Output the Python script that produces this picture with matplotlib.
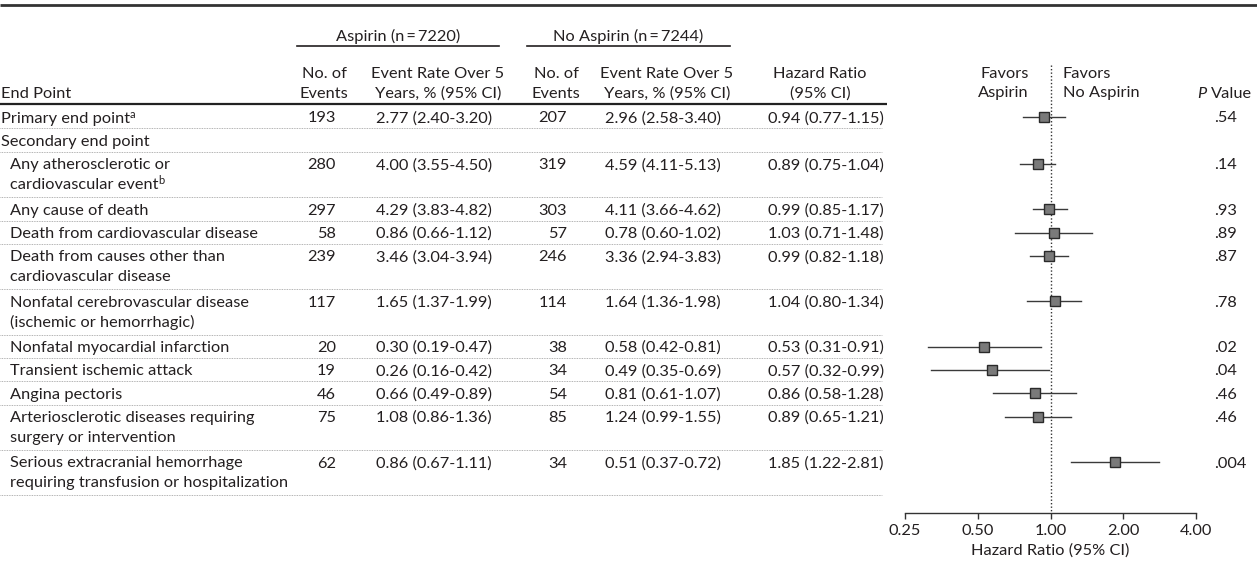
import matplotlib
matplotlib.use("Agg")
import matplotlib.pyplot as plt
import numpy as np

plt.rcParams['font.family'] = ['Lato', 'DejaVu Sans']

# ---- table content -------------------------------------------------------
endpoints = [
    "Primary end point",
    "Secondary end point",
    "Any atherosclerotic or\ncardiovascular event",
    "Any cause of death",
    "Death from cardiovascular disease",
    "Death from causes other than\ncardiovascular disease",
    "Nonfatal cerebrovascular disease\n(ischemic or hemorrhagic)",
    "Nonfatal myocardial infarction",
    "Transient ischemic attack",
    "Angina pectoris",
    "Arteriosclerotic diseases requiring\nsurgery or intervention",
    "Serious extracranial hemorrhage\nrequiring transfusion or hospitalization",
]
footnotes = ["a", "", "b", "", "", "", "", "", "", "", "", ""]
indented = [False, False, True, True, True, True, True, True, True, True, True, True]

asp_events = [193, None, 280, 297, 58, 239, 117, 20, 19, 46, 75, 62]
asp_rate = [2.77, None, 4.00, 4.29, 0.86, 3.46, 1.65, 0.30, 0.26, 0.66, 1.08, 0.86]
asp_lo = [2.40, None, 3.55, 3.83, 0.66, 3.04, 1.37, 0.19, 0.16, 0.49, 0.86, 0.67]
asp_hi = [3.20, None, 4.50, 4.82, 1.12, 3.94, 1.99, 0.47, 0.42, 0.89, 1.36, 1.11]

noasp_events = [207, None, 319, 303, 57, 246, 114, 38, 34, 54, 85, 34]
noasp_rate = [2.96, None, 4.59, 4.11, 0.78, 3.36, 1.64, 0.58, 0.49, 0.81, 1.24, 0.51]
noasp_lo = [2.58, None, 4.11, 3.66, 0.60, 2.94, 1.36, 0.42, 0.35, 0.61, 0.99, 0.37]
noasp_hi = [3.40, None, 5.13, 4.62, 1.02, 3.83, 1.98, 0.81, 0.69, 1.07, 1.55, 0.72]

hr = [0.94, None, 0.89, 0.99, 1.03, 0.99, 1.04, 0.53, 0.57, 0.86, 0.89, 1.85]
hr_lo = [0.77, None, 0.75, 0.85, 0.71, 0.82, 0.80, 0.31, 0.32, 0.58, 0.65, 1.22]
hr_hi = [1.15, None, 1.04, 1.17, 1.48, 1.18, 1.34, 0.91, 0.99, 1.28, 1.21, 2.81]

p_values = [".54", "", ".14", ".93", ".89", ".87", ".78", ".02", ".04", ".46", ".46", ".004"]

n_aspirin = 7220
n_no_aspirin = 7244
hr_ticks = [0.25, 0.50, 1.00, 2.00, 4.00]

# ---- layout (pixel units) ------------------------------------------------
W, H = 1257, 562
FS = 11.8
TXT = "#231f20"
LINE_STEP = 20          # spacing between wrapped lines in one row
ROW_STEP = 23.4         # spacing between single-line rows
EXTRA_LINE = 21.9       # extra height added per wrapped line

fig = plt.figure(figsize=(W / 100, H / 100), dpi=100)
ax = fig.add_axes([0, 0, 1, 1])
ax.set_xlim(0, W)
ax.set_ylim(H, 0)
ax.axis("off")

# row positions
row_y = []
y = 117.0
for label in endpoints:
    row_y.append(y)
    n_lines = label.count("\n") + 1
    y += ROW_STEP + EXTRA_LINE * (n_lines - 1)

BASE = 5.5  # baseline offset from row centre


def put(x, yc, s, ha="left", **kw):
    return ax.text(x, yc + BASE, s, ha=ha, va="baseline", fontsize=kw.pop("fontsize", FS),
                   color=kw.pop("color", TXT), **kw)


def fmt_ci(v, lo, hi):
    return f"{v:.2f} ({lo:.2f}-{hi:.2f})"


# column anchors
X_END, X_INDENT = 1, 10
X_AEV, X_ARATE = 336, 376
X_NEV, X_NRATE = 567, 605
X_HR = 768
X_P = 1214

# top rule
ax.plot([0, W], [5, 5], color="#333333", lw=2.0, solid_capstyle="butt")

# group headers
put(398, 35, f"Aspirin (n\u2009=\u2009{n_aspirin})", ha="center")
ax.plot([297, 499], [46, 46], color=TXT, lw=1.2)
put(628, 35, f"No Aspirin (n\u2009=\u2009{n_no_aspirin})", ha="center")
ax.plot([527, 730], [46, 46], color=TXT, lw=1.2)

# column headers
HY1, HY2 = 72, 92
put(X_END, HY2, "End Point")
put(324, HY1, "No. of", ha="center")
put(324, HY2, "Events", ha="center")
put(438, HY1, "Event Rate Over 5", ha="center")
put(438, HY2, "Years, % (95% CI)", ha="center")
put(556, HY1, "No. of", ha="center")
put(556, HY2, "Events", ha="center")
put(667, HY1, "Event Rate Over 5", ha="center")
put(667, HY2, "Years, % (95% CI)", ha="center")
put(820, HY1, "Hazard Ratio", ha="center")
put(820, HY2, "(95% CI)", ha="center")
put(1029, HY1, "Favors", ha="right")
put(1029, HY2, "Aspirin", ha="right")
put(1063, HY1, "Favors")
put(1063, HY2, "No Aspirin")
fig.canvas.draw()
renderer = fig.canvas.get_renderer()
ptxt = put(1197, HY2, "P", style="italic")
bb = ptxt.get_window_extent(renderer)
px_right = ax.transData.inverted().transform((bb.x1, bb.y0))[0]
put(px_right + 5, HY2, "Value")

# header rule
ax.plot([0, 887], [104, 104], color="#222222", lw=1.6, solid_capstyle="butt")

# table body
for i, label in enumerate(endpoints):
    yc = row_y[i]
    lines = label.split("\n")
    x0 = X_INDENT if indented[i] else X_END
    for k, ln in enumerate(lines):
        t = put(x0, yc + LINE_STEP * k, ln)
        if k == len(lines) - 1 and footnotes[i]:
            bb = t.get_window_extent(renderer)
            xr = ax.transData.inverted().transform((bb.x1, bb.y0))[0]
            ax.text(xr, yc + LINE_STEP * k + BASE - 5, footnotes[i], fontsize=8,
                    color=TXT, ha="left", va="baseline")
    if asp_events[i] is not None:
        put(X_AEV, yc, f"{asp_events[i]}", ha="right")
        put(X_ARATE, yc, fmt_ci(asp_rate[i], asp_lo[i], asp_hi[i]))
        put(X_NEV, yc, f"{noasp_events[i]}", ha="right")
        put(X_NRATE, yc, fmt_ci(noasp_rate[i], noasp_lo[i], noasp_hi[i]))
        put(X_HR, yc, fmt_ci(hr[i], hr_lo[i], hr_hi[i]))
        put(X_P, yc, p_values[i])

    # dotted separator under each row
    n_lines = len(lines)
    if i + 1 < len(endpoints):
        ys = row_y[i + 1] - 12
    else:
        ys = yc + LINE_STEP * (n_lines - 1) + 13
    ax.plot([0, 882], [ys, ys], color="#9a9a9a", lw=0.6, ls=(0, (1, 1)))

# ---- forest plot ---------------------------------------------------------
AX_L, AX_R, AX_B, AX_T = 905, 1196, 513, 60
fax = fig.add_axes([AX_L / W, 1 - AX_B / H, (AX_R - AX_L) / W, (AX_B - AX_T) / H])
fax.set_xscale("log", base=2)
fax.set_xlim(hr_ticks[0], hr_ticks[-1])
fax.set_ylim(AX_B, AX_T)
fax.patch.set_alpha(0)
for s in ("top", "right", "left"):
    fax.spines[s].set_visible(False)
fax.spines["bottom"].set_color("#333333")
fax.spines["bottom"].set_linewidth(1.0)
fax.set_yticks([])
fax.set_xticks(hr_ticks)
fax.set_xticklabels([f"{t:.2f}" for t in hr_ticks], fontsize=FS, color=TXT)
fax.xaxis.set_minor_locator(matplotlib.ticker.NullLocator())
fax.tick_params(axis="x", direction="out", length=4, width=1.0, color="#333333", pad=4)
fax.set_xlabel("Hazard Ratio (95% CI)", fontsize=FS, color=TXT, labelpad=4)

fax.plot([1, 1], [65, AX_B], color="#333333", lw=1.0, ls=(0, (1, 1.5)), clip_on=False)

for i in range(len(endpoints)):
    if hr[i] is None:
        continue
    yc = row_y[i]
    fax.plot([hr_lo[i], hr_hi[i]], [yc, yc], color="#3a3a3a", lw=1.0, clip_on=False)
    fax.plot(hr[i], yc, marker="s", ms=7, mfc="#7a7a7a", mec="#2a2a2a", mew=1.0,
             clip_on=False, zorder=3)

fig.savefig("out.png", dpi=100)
